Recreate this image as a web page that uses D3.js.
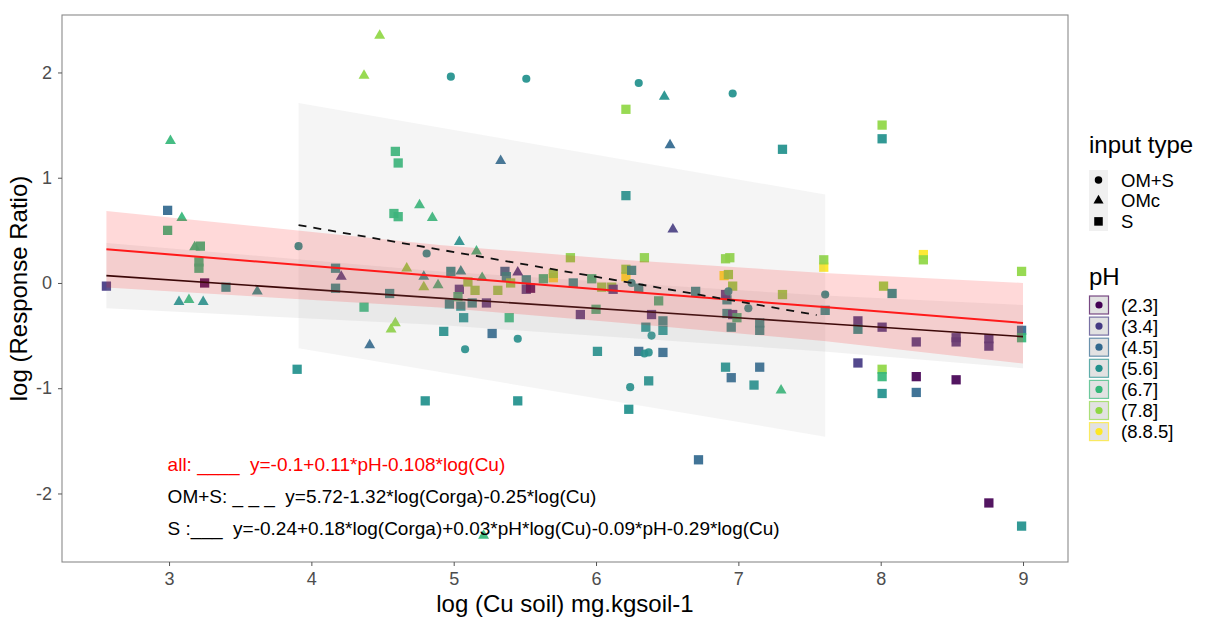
<!DOCTYPE html>
<html><head><meta charset="utf-8">
<script src="https://cdn.jsdelivr.net/npm/d3@7"></script>
<style>
body{margin:0;background:#fff}
text{font-family:"Liberation Sans",Arial,sans-serif}
</style>
</head><body>
<svg id="chart" width="1207" height="619"></svg>
<script>
// ---------- DATA ----------
const xTicks = [3, 4, 5, 6, 7, 8, 9];
const yTicks = [-2, -1, 0, 1, 2];
const inputTypes = ["OM+S", "OMc", "S"];
const pHLevels = ["(2.3]", "(3.4]", "(4.5]", "(5.6]", "(6.7]", "(7.8]", "(8.8.5]"];

// OM+S (circles): log Cu, log RR, pH class index
const omsCu = [4.98,5.51,6.30,6.96,3.91,4.81,6.25,5.45,5.08,6.93,7.61,6.39,7.07,6.34,6.37,6.24];
const omsRR = [1.96,1.94,1.90,1.80,0.35,0.28,0.00,-0.53,-0.63,-0.08,-0.11,-0.50,-0.24,-0.67,-0.66,-0.99];
const omsPH = [3,3,3,3,3,3,3,3,3,3,3,3,3,3,3,3];

// OMc (triangles)
const omcCu = [4.48,4.37,6.48,6.52,5.33,6.54,3.01,3.09,3.18,4.21,3.62,4.76,4.85,5.04,4.67,4.79,4.79,4.89,3.07,3.14,3.24,4.59,4.56,4.41,5.16,5.05,5.20,5.45,7.30,5.21];
const omcRR = [2.35,1.97,1.77,1.31,1.16,0.51,1.35,0.62,0.34,0.06,-0.08,0.74,0.62,0.39,0.14,0.06,-0.04,-0.02,-0.18,-0.16,-0.18,-0.38,-0.44,-0.59,0.30,0.11,0.05,0.10,-1.02,-2.40];
const omcPH = [5,5,3,2,2,1,4,4,4,1,3,4,4,3,5,3,5,4,3,4,3,5,5,2,4,3,4,1,4,4];

// S (squares)
const sCu = [6.21,7.31,6.21,2.99,2.99,3.22,3.21,3.21,4.17,3.25,2.56,3.40,4.17,4.55,4.59,4.61,4.58,4.61,4.98,5.04,4.37,4.93,3.90,4.80,4.97,5.05,5.03,
  5.82,5.36,5.37,5.51,5.10,5.15,5.31,5.40,5.51,5.54,5.63,5.70,5.70,5.84,5.97,6.04,6.11,6.12,6.21,6.21,6.25,6.30,5.13,5.23,5.07,5.39,5.89,6.00,5.27,5.45,
  6.34,6.91,6.94,7.60,7.60,6.70,6.90,6.93,6.96,6.92,6.91,7.31,7.61,6.44,6.39,6.47,6.47,6.35,6.92,6.96,6.99,6.95,7.15,7.15,6.01,6.30,6.47,6.37,6.23,6.91,6.95,7.11,7.15,6.72,
  8.01,8.01,8.30,8.30,8.99,8.02,8.08,7.84,7.84,8.01,8.25,8.53,8.53,8.76,8.76,8.99,8.99,7.84,8.01,8.01,8.01,8.25,8.25,8.53,8.76,8.99];
const sRR = [1.65,1.27,0.83,0.69,0.50,0.35,0.20,0.14,0.14,0.00,-0.03,-0.04,-0.05,-0.10,1.25,1.14,0.66,0.63,0.11,-0.06,-0.23,-0.46,-0.82,-1.12,-0.20,-0.22,-0.13,
  0.24,0.11,0.06,0.03,0.01,-0.07,-0.07,0.00,-0.06,-0.05,0.04,0.05,0.09,0.00,0.04,-0.04,-0.04,-0.06,0.06,0.13,0.12,-0.05,-0.19,-0.19,-0.33,-0.33,-0.30,-0.25,-0.48,-1.12,
  0.24,0.23,0.24,0.15,0.22,-0.08,0.07,0.08,-0.03,-0.16,-0.11,-0.11,-0.26,-0.17,-0.30,-0.36,-0.45,-0.42,-0.29,-0.30,-0.33,-0.42,-0.38,-0.45,-0.65,-0.65,-0.66,-0.93,-1.20,-0.80,-0.90,-0.97,-0.80,-1.68,
  1.50,1.37,0.27,0.22,0.11,-0.03,-0.10,-0.36,-0.44,-0.42,-0.56,-0.52,-0.56,-0.53,-0.60,-0.45,-0.52,-0.76,-0.82,-0.89,-1.05,-0.89,-1.04,-0.92,-2.09,-2.31];
const sPH = [5,3,3,2,4,4,4,4,3,0,1,3,3,3,4,4,4,4,3,1,4,3,3,3,3,3,4,
  5,2,3,3,5,5,5,5,1,0,4,6,5,3,4,5,5,1,6,5,3,3,3,1,3,4,1,4,2,3,
  5,5,5,6,5,3,6,5,5,3,1,5,3,4,1,3,3,3,3,1,4,3,3,3,3,2,2,3,3,3,2,3,2,2,
  5,3,6,5,5,5,3,1,3,1,1,1,1,1,1,2,4,1,5,4,3,0,2,0,0,3];

// fitted models
const allFitCu = [2.56, 4.90, 6.21, 7.60, 9.00];
const allFitRR = [0.32, 0.064, -0.082, -0.228, -0.38];
const allFitLo = [-0.044, -0.233, -0.383, -0.551, -0.766];
const allFitHi = [0.684, 0.361, 0.219, 0.095, 0.00];

const sFitCu = [2.56, 4.90, 7.60, 9.00];
const sFitRR = [0.07, -0.144, -0.385, -0.51];
const sFitLo = [-0.24, -0.40, -0.65, -0.81];
const sFitHi = [0.38, 0.11, -0.12, -0.21];

const omsFitCu = [3.91, 7.55];
const omsFitRR = [0.55, -0.305];
const omsRibbonCu = [3.91, 7.61];
const omsFitLo = [-0.62, -1.46];
const omsFitHi = [1.71, 0.84];

const equations = [
  "all: ____  y=-0.1+0.11*pH-0.108*log(Cu)",
  "OM+S: _ _ _  y=5.72-1.32*log(Corga)-0.25*log(Cu)",
  "S :___  y=-0.24+0.18*log(Corga)+0.03*pH*log(Cu)-0.09*pH-0.29*log(Cu)"
];
const eqX = 2.99;
const eqY = [-1.729, -2.024, -2.328];

// ---------- DRAW ----------
const svg = d3.select("#chart");
const L = 62, R = 1068, T = 15, B = 562;
const x = d3.scaleLinear().domain([2.248, 9.316]).range([L, R]);
const y = d3.scaleLinear().domain([-2.651, 2.546]).range([B, T]);
const colors = ["#440154","#443A83","#31688E","#21908C","#35B779","#8FD744","#FDE725"];
const color = d3.scaleOrdinal().domain(d3.range(7)).range(colors);
const symType = d3.scaleOrdinal().domain(inputTypes).range([d3.symbolCircle, d3.symbolTriangle, d3.symbolSquare]);
const symSize = d3.scaleOrdinal().domain(inputTypes).range([52, 52, 86]);

svg.append("rect").attr("x", L).attr("y", T).attr("width", R - L).attr("height", B - T).attr("fill", "#fff");

// points
function pts(cu, rr, ph, type) {
  return cu.map((c, i) => ({cu: c, rr: rr[i], ph: ph[i], type}));
}
const points = [].concat(pts(sCu, sRR, sPH, "S"), pts(omcCu, omcRR, omcPH, "OMc"), pts(omsCu, omsRR, omsPH, "OM+S"));
svg.append("g").selectAll("path").data(points).join("path")
  .attr("transform", d => `translate(${x(d.cu)},${y(d.rr)})`)
  .attr("d", d => d3.symbol(symType(d.type), symSize(d.type))())
  .attr("fill", d => color(d.ph))
  .attr("fill-opacity", 0.92);

function band(cu, lo, hi) {
  return d3.area().x((d, i) => x(cu[i])).y0((d, i) => y(lo[i])).y1((d, i) => y(hi[i]))(cu);
}
function line(cu, v) {
  return d3.line().x((d, i) => x(cu[i])).y((d, i) => y(v[i]))(cu);
}
// S model
svg.append("path").attr("d", band(sFitCu, sFitLo, sFitHi)).attr("fill", "#999").attr("fill-opacity", 0.13);
svg.append("path").attr("d", line(sFitCu, sFitRR)).attr("fill", "none").attr("stroke", "#1a0a0a").attr("stroke-width", 1.6);
// OM+S model ribbon
svg.append("path").attr("d", band(omsRibbonCu, omsFitLo, omsFitHi)).attr("fill", "#999").attr("fill-opacity", 0.095);
// all model
svg.append("path").attr("d", band(allFitCu, allFitLo, allFitHi)).attr("fill", "#ff0000").attr("fill-opacity", 0.15);
svg.append("path").attr("d", line(allFitCu, allFitRR)).attr("fill", "none").attr("stroke", "#ff1a1a").attr("stroke-width", 2);
// OM+S dashed
svg.append("path").attr("d", line(omsFitCu, omsFitRR)).attr("fill", "none").attr("stroke", "#111")
  .attr("stroke-width", 1.8).attr("stroke-dasharray", "8,7");

// equations
svg.append("g").selectAll("text").data(equations).join("text")
  .attr("x", x(eqX)).attr("y", (d, i) => y(eqY[i]))
  .attr("dominant-baseline", "central")
  .style("white-space", "pre")
  .attr("font-size", 19)
  .attr("fill", (d, i) => i === 0 ? "#ff0000" : "#000")
  .text(d => d);

// panel border
svg.append("rect").attr("x", L).attr("y", T).attr("width", R - L).attr("height", B - T)
  .attr("fill", "none").attr("stroke", "#8a8a8a").attr("stroke-width", 1.1);

// axes
const xAxis = svg.append("g").attr("transform", `translate(0,${B})`)
  .call(d3.axisBottom(x).tickValues(xTicks).tickFormat(d => String(d)).tickSize(4).tickPadding(6));
const yAxis = svg.append("g").attr("transform", `translate(${L},0)`)
  .call(d3.axisLeft(y).tickValues(yTicks).tickFormat(d => String(d)).tickSize(4).tickPadding(6));
[xAxis, yAxis].forEach(g => {
  g.select(".domain").remove();
  g.selectAll(".tick line").attr("stroke", "#555");
  g.selectAll(".tick text").attr("fill", "#4d4d4d").attr("font-size", 18)
    .attr("font-family", "'Liberation Sans', Arial, sans-serif");
});

svg.append("text").attr("x", (L + R) / 2).attr("y", 612).attr("text-anchor", "middle")
  .attr("font-size", 24).attr("fill", "#000").text("log (Cu soil) mg.kgsoil-1");
svg.append("text").attr("transform", `translate(27,${(T + B) / 2}) rotate(-90)`).attr("text-anchor", "middle")
  .attr("font-size", 24).attr("fill", "#000").text("log (Response Ratio)");

// legend: input type
const lg = svg.append("g");
lg.append("text").attr("x", 1089).attr("y", 153).attr("font-size", 24).text("input type");
lg.append("rect").attr("x", 1089).attr("y", 170).attr("width", 19).attr("height", 61).attr("fill", "#f0f0f0");
inputTypes.forEach((t, i) => {
  const cy = 180 + i * 20.7;
  lg.append("path").attr("transform", `translate(1098.5,${cy})`)
    .attr("d", d3.symbol(symType(t), symSize(t) * 0.85)()).attr("fill", "#000");
  lg.append("text").attr("x", 1121).attr("y", cy).attr("dominant-baseline", "central")
    .attr("font-size", 18.5).text(t);
});
// legend: pH
lg.append("text").attr("x", 1089).attr("y", 285).attr("font-size", 24).text("pH");
pHLevels.forEach((lab, i) => {
  const cy = 305 + i * 21.1;
  lg.append("rect").attr("x", 1089.5).attr("y", cy - 9).attr("width", 19).attr("height", 18)
    .attr("fill", "#e2e2e2").attr("stroke", color(i)).attr("stroke-opacity", 0.7).attr("stroke-width", 1.2);
  lg.append("circle").attr("cx", 1099).attr("cy", cy).attr("r", 3.6).attr("fill", color(i));
  lg.append("text").attr("x", 1121).attr("y", cy).attr("dominant-baseline", "central")
    .attr("font-size", 18.5).text(lab);
});
</script>
</body></html>
